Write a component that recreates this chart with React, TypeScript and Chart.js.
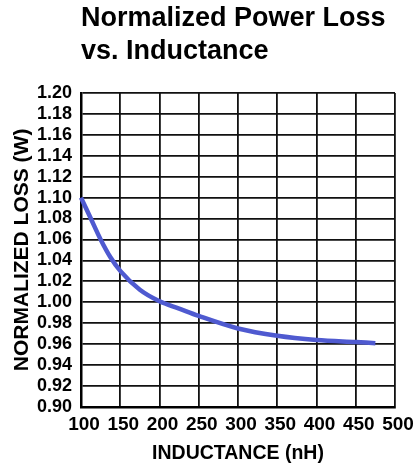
import React, { useEffect, useRef } from "react";
import { Chart, registerables } from "chart.js";

Chart.register(...registerables);

const inductanceNH = [100, 112.5, 125, 137.5, 150, 175, 200, 225, 250, 300, 350, 400, 450, 475];
const normalizedLoss = [1.1, 1.08, 1.06, 1.043, 1.03, 1.012, 1.001, 0.994, 0.987, 0.975, 0.968, 0.964, 0.962, 0.961];
const titleLines = ["Normalized Power Loss", "vs. Inductance"];
const xAxisTitle = "INDUCTANCE (nH)";
const yAxisTitle = "NORMALIZED LOSS (W)";
const xMin = 100;
const xMax = 500;
const xStep = 50;
const yMin = 0.9;
const yMax = 1.2;
const yStep = 0.02;

const FONT = "'Liberation Sans', Arial, Helvetica, sans-serif";

export default function App() {
  const ref = useRef<HTMLCanvasElement | null>(null);

  useEffect(() => {
    const canvas = ref.current;
    if (!canvas) return;
    const points = inductanceNH.map((x, i) => ({ x, y: normalizedLoss[i] }));
    const chart = new Chart(canvas, {
      type: "line",
      data: {
        datasets: [
          {
            data: points,
            borderColor: "#4f5ad0",
            borderWidth: 4.5,
            pointRadius: 0,
            fill: false,
            cubicInterpolationMode: "monotone",
            clip: false as any,
          },
        ],
      },
      options: {
        responsive: false,
        animation: false,
        layout: { padding: { left: 0, right: 18, top: 0, bottom: 0 } },
        plugins: {
          legend: { display: false },
          tooltip: { enabled: false },
          title: {
            display: true,
            text: titleLines,
            align: "start",
            fullSize: false,
            color: "#000",
            font: { family: FONT, size: 27, weight: "bold", lineHeight: 1.22 },
            padding: { top: 2, bottom: 25 },
          },
        },
        scales: {
          x: {
            type: "linear",
            min: xMin,
            max: xMax,
            ticks: {
              stepSize: xStep,
              color: "#000",
              padding: 8,
              labelOffset: 3,
              maxRotation: 0,
              autoSkip: false,
              font: { family: FONT, size: 19, weight: "bold", lineHeight: 1 },
            },
            grid: { color: "#111", lineWidth: 1.8, drawTicks: false },
            border: { color: "#000", width: 2.5 },
            title: {
              display: true,
              text: xAxisTitle,
              color: "#000",
              font: { family: FONT, size: 19.5, weight: "bold", lineHeight: 1.2 },
              padding: { top: 0, bottom: 0 },
            },
            afterFit: (scale: any) => {
              scale.height = 58;
              scale.paddingLeft = 0;
              scale.paddingRight = 0;
            },
          },
          y: {
            type: "linear",
            min: yMin,
            max: yMax,
            ticks: {
              stepSize: yStep,
              color: "#000",
              padding: 9,
              autoSkip: false,
              font: { family: FONT, size: 18, weight: "bold", lineHeight: 1 },
              callback: (v: any) => Number(v).toFixed(2),
            },
            grid: { color: "#111", lineWidth: 1.8, drawTicks: false },
            border: { color: "#000", width: 2.5 },
            title: {
              display: true,
              text: yAxisTitle,
              color: "#000",
              font: { family: FONT, size: 21, weight: "bold", lineHeight: 1.2 },
              padding: { top: 10, bottom: 0 },
            },
            afterFit: (scale: any) => {
              scale.width = 81;
            },
          },
        },
      },
    });
    return () => chart.destroy();
  }, []);

  return (
    <div style={{ position: "absolute", left: 0, top: 0, width: 413, height: 465, background: "#fff" }}>
      <canvas ref={ref} width={413} height={465} />
    </div>
  );
}
